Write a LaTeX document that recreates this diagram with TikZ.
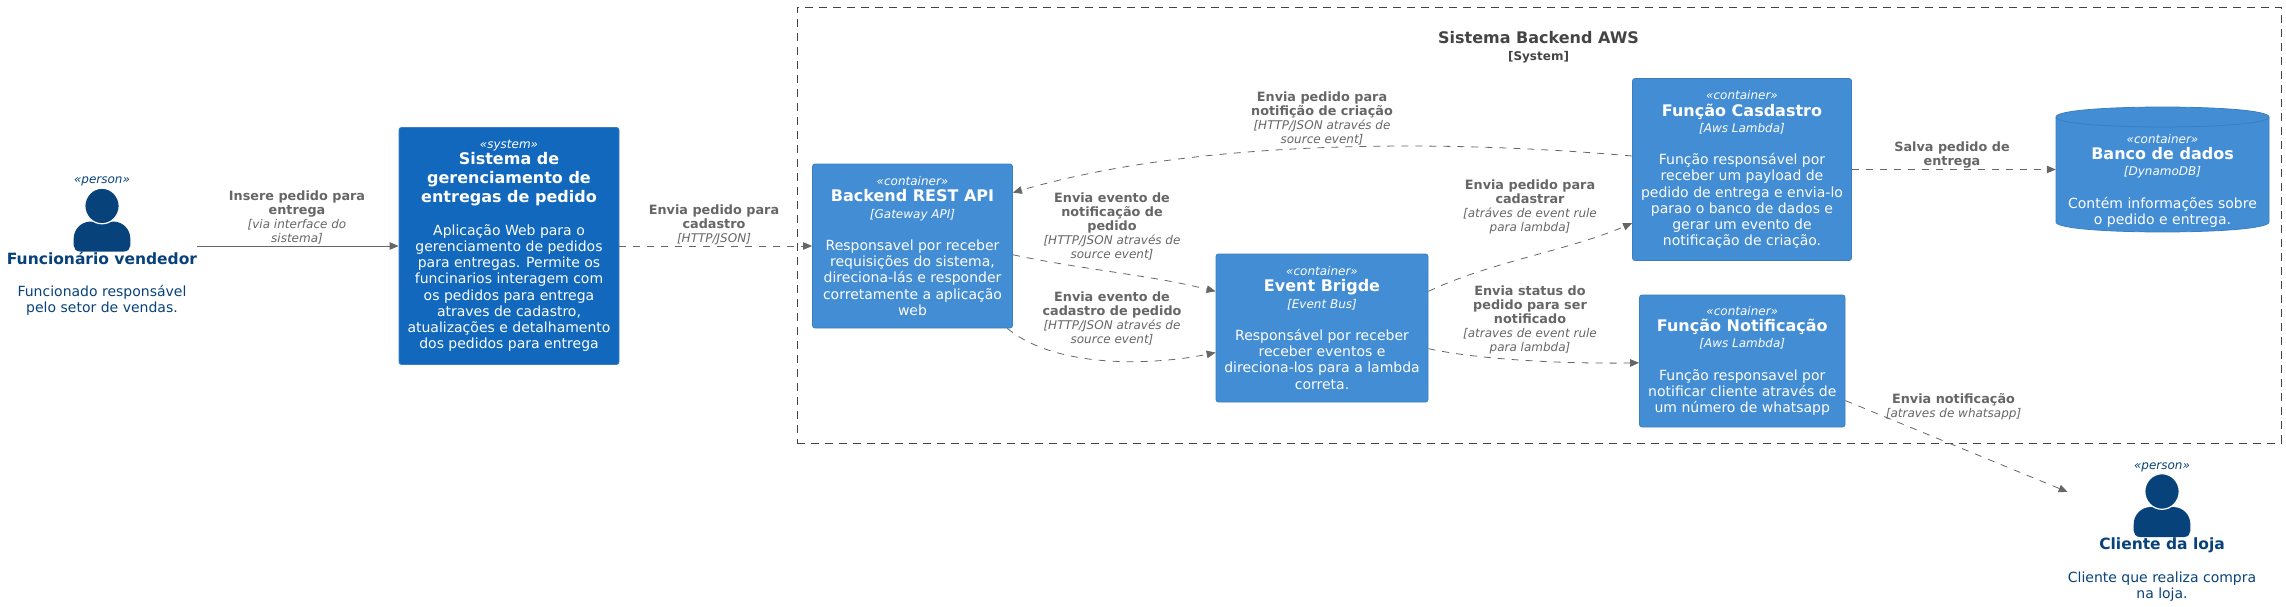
\documentclass[tikz,border=0pt]{standalone}
\usepackage{fontspec}
\setmainfont{DejaVu Sans}
\usetikzlibrary{arrows.meta}
\definecolor{syscol}{HTML}{1168BD}
\definecolor{concol}{HTML}{438DD5}
\definecolor{conedge}{HTML}{3C7FC0}
\definecolor{syscedge}{HTML}{3C7FC0}
\definecolor{percol}{HTML}{08427B}
\definecolor{relcol}{HTML}{666666}
\definecolor{bndcol}{HTML}{444444}
\newcommand{\cSter}[1]{{\fontsize{12}{16.2}\selectfont\itshape #1}}
\newcommand{\cTitle}[1]{{\fontsize{16}{16.2}\selectfont\bfseries #1}}
\newcommand{\cPers}[1]{{\fontsize{15.5}{16.2}\selectfont\bfseries #1}}
\newcommand{\cTech}[1]{{\fontsize{12}{16.2}\selectfont\itshape #1}}
\newcommand{\rB}[1]{{\fontsize{12.8}{14}\selectfont\bfseries #1}}
\newcommand{\rI}[1]{{\itshape #1}}
\newcommand{\personicon}[2]{%
  \begin{scope}[shift={(#1,#2)}]
    \fill[percol] (-22,63) .. controls (-26,63) and (-28.3,60) .. (-28.3,57) -- (-28.3,50)
      .. controls (-28.3,41) and (-21,33) .. (-11,33) -- (11,33)
      .. controls (21,33) and (28.3,41) .. (28.3,50) -- (28.3,57)
      .. controls (28.3,60) and (26,63) .. (22,63) -- cycle;
    \filldraw[fill=percol,draw=white,line width=1.2pt] (0,17.5) ellipse [x radius=17.2,y radius=17.8];
  \end{scope}}
\tikzset{
  x=1pt,y=-1pt,
  boxtxt/.style={align=center,inner sep=0pt,font=\fontsize{14}{16.2}\selectfont,text=white},
  sysbox/.style={boxtxt,rectangle,rounded corners=2.5pt,fill=syscol,draw=syscedge,line width=.8pt},
  conbox/.style={boxtxt,rectangle,rounded corners=2.5pt,fill=concol,draw=conedge,line width=.8pt},
  pertxt/.style={align=center,inner sep=0pt,font=\fontsize{14}{16.2}\selectfont,text=percol},
  rellab/.style={align=center,inner sep=0pt,font=\fontsize{12}{14}\selectfont,text=relcol},
  rel/.style={draw=relcol,line width=.8pt,-{Triangle[length=9pt,width=7.5pt]}},
  reld/.style={rel,dash pattern=on 7pt off 7pt},
  bnd/.style={draw=bndcol,line width=.9pt,dash pattern=on 8pt off 6pt,rectangle,inner sep=0pt}
}
\begin{document}
\begin{tikzpicture}
\useasboundingbox (0,0) rectangle (2286,607);
% boundary
\node[bnd,minimum width=1484pt,minimum height=436pt] (backendsys) at (1539,225) {};
\node[align=center,inner sep=0pt,text=bndcol,font=\fontsize{12}{17}\selectfont] (backendtitle) at (1538.5,47) {{\fontsize{16}{17}\selectfont\bfseries Sistema Backend AWS}\\{\bfseries [System]}};
% nodes
\node[pertxt] (vendedor) at (102,246) {\cSter{«person»}\\[65pt]\cPers{Funcionário vendedor}\\~\\Funcionado responsável\\pelo setor de vendas.};
\personicon{102}{188.5}
\node[sysbox,minimum width=220pt,minimum height=237pt] (sistema) at (509,246) {\cSter{«system»}\\\cTitle{Sistema de}\\[2.8pt]\cTitle{gerenciamento de}\\[2.8pt]\cTitle{entregas de pedido}\\~\\Aplicação Web para o\\gerenciamento de pedidos\\para entregas. Permite os\\funcinarios interagem com\\os pedidos para entrega\\atraves de cadastro,\\atualizações e detalhamento\\dos pedidos para entrega};
\node[conbox,minimum width=200pt,minimum height=164pt] (backend) at (912.5,246) {\cSter{«container»}\\\cTitle{Backend REST API}\\\cTech{[Gateway API]}\\~\\Responsavel por receber\\requisições do sistema,\\direciona-lás e responder\\corretamente a aplicação\\web};
\node[conbox,minimum width=212pt,minimum height=148pt] (evento) at (1322,328) {\cSter{«container»}\\\cTitle{Event Brigde}\\\cTech{[Event Bus]}\\~\\Responsável por receber\\receber eventos e\\direciona-los para a lambda\\correta.};
\node[conbox,minimum width=219pt,minimum height=182pt] (cadastro) at (1742,169.5) {\cSter{«container»}\\\cTitle{Função Casdastro}\\\cTech{[Aws Lambda]}\\~\\Função responsável por\\receber um payload de\\pedido de entrega e envia-lo\\parao o banco de dados e\\gerar um evento de\\notificação de criação.};
\node[conbox,minimum width=205.5pt,minimum height=132pt] (notifica) at (1742.25,361) {\cSter{«container»}\\\cTitle{Função Notificação}\\\cTech{[Aws Lambda]}\\~\\Função responsavel por\\notificar cliente através de\\um número de whatsapp};
\filldraw[fill=concol,draw=conedge,line width=.8pt] (2056,117) .. controls (2056,103.7) and (2269,103.7) .. (2269,117) -- (2269,222) .. controls (2269,235.3) and (2056,235.3) .. (2056,222) -- cycle;
\draw[conedge,line width=.8pt] (2056,117) .. controls (2056,130.3) and (2269,130.3) .. (2269,117);
\node[boxtxt,rectangle,minimum width=213pt,minimum height=125pt] (banco) at (2162.5,169.5) {~\\~\\[-1pt]\cSter{«container»}\\\cTitle{Banco de dados}\\\cTech{[DynamoDB]}\\~\\Contém informações sobre\\o pedido e entrega.};
\node[pertxt] (cliente) at (2162,532) {\cSter{«person»}\\[64.5pt]\cPers{Cliente da loja}\\~\\Cliente que realiza compra\\na loja.};
\personicon{2162}{474}
% connectors
\draw[rel] (vendedor.east) -- (sistema.west);
\draw[reld] (sistema.east) -- (backend.west);
\draw[reld] (backend.-5.7) .. controls (1085,270) and (1150,275) .. (evento.161.7);
\draw[reld] (backend.-41.9) .. controls (1055,368) and (1150,366) .. (evento.193.3);
\draw[reld] (evento.19.7) .. controls (1490,262) and (1570,250) .. (cadastro.206.2);
\draw[reld] (evento.-11.7) .. controls (1480,360) and (1570,364) .. (notifica.181.7);
\draw[reld] (cadastro.173.75) .. controls (1450,140) and (1200,138) .. (backend.28.4);
\draw[reld] (cadastro.east) -- (banco.west);
\draw[reld] (notifica.-21.8) -- (cliente.157.7);
% labels
\node[rellab] (l1) at (297,217.5) {\rB{Insere pedido para}\\\rB{entrega}\\\rI{[via interface do}\\\rI{sistema]}};
\node[rellab] (l2) at (714,224.5) {\rB{Envia pedido para}\\\rB{cadastro}\\\rI{[HTTP/JSON]}};
\node[rellab] (l3) at (1322,118) {\rB{Envia pedido para}\\\rB{notifição de criação}\\\rI{[HTTP/JSON através de}\\\rI{source event]}};
\node[rellab] (l4) at (1112,226) {\rB{Envia evento de}\\\rB{notificação de}\\\rB{pedido}\\\rI{[HTTP/JSON através de}\\\rI{source event]}};
\node[rellab] (l5) at (1112,318) {\rB{Envia evento de}\\\rB{cadastro de pedido}\\\rI{[HTTP/JSON através de}\\\rI{source event]}};
\node[rellab] (l6) at (1530,207) {\rB{Envia pedido para}\\\rB{cadastrar}\\\rI{[atráves de event rule}\\\rI{para lambda]}};
\node[rellab] (l7) at (1530,320) {\rB{Envia status do}\\\rB{pedido para ser}\\\rB{notificado}\\\rI{[atraves de event rule}\\\rI{para lambda]}};
\node[rellab] (l8) at (1952,155) {\rB{Salva pedido de}\\\rB{entrega}};
\node[rellab] (l9) at (1953.5,407) {\rB{Envia notificação}\\\rI{[atraves de whatsapp]}};
\end{tikzpicture}
\end{document}
